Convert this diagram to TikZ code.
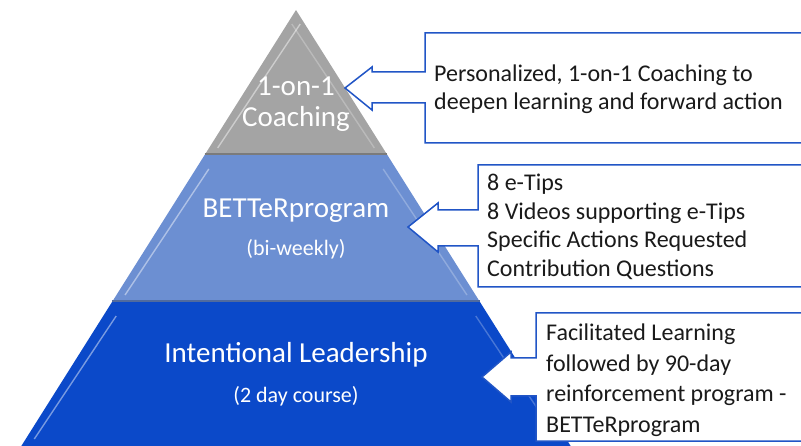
\documentclass[tikz,border=0pt]{standalone}
\usepackage{fontspec}
\setmainfont{Carlito}
\usepackage{tikz}
\definecolor{capagris}{HTML}{A4A4A4}
\definecolor{capaclara}{HTML}{6C8FD2}
\definecolor{capaoscura}{HTML}{0B49C9}
\definecolor{borde}{HTML}{2155C6}
\definecolor{tinta}{HTML}{1A1A1A}

\begin{document}
\begin{tikzpicture}[x=1pt,y=-1pt,
      tier/.style={font=\fontsize{29}{31}\selectfont,text=white,align=center},
      sub/.style={font=\fontsize{22}{25}\selectfont,text=white},
      note/.style={font=\fontsize{24}{28.5}\selectfont,text=tinta,align=left,anchor=west,inner sep=0pt},
      callout/.style={draw=borde,line width=1.5pt,fill=white,miter limit=4}]
    \useasboundingbox (0,0) rectangle (801,446);
    \clip (0,0) rectangle (801,446);
    % three tiers of the pyramid, apex at (296,10)
    \foreach \t/\b/\c in {10/155/capagris,155/302/capaclara,302/446/capaoscura}{
      \pgfmathsetmacro\wt{0.63*(\t-10)}
      \pgfmathsetmacro\wb{0.63*(\b-10)}
      \pgfmathsetmacro\wh{0.63*(\t+4)-13}
      \fill[\c] (296-\wt,\t) -- (296+\wt,\t) -- (296+\wb,\b) -- (296-\wb,\b) -- cycle;
      % bevel highlights
      \draw[white,opacity=0.45,line width=1.4pt]
        (296-\wb+13,\b-7) -- (296-\wh,\t+14);
      \draw[white,opacity=0.25,line width=1.4pt]
        (296+\wb-13,\b-7) -- (296+\wh,\t+14);
    }
    % base shadows of the two upper tiers
    \draw[capagris!75!black,line width=1.5pt] (204.65,154) -- (387.35,154);
    \draw[capaclara!75!black,line width=1.5pt] (112.04,301) -- (479.96,301);
    % callouts
    \draw[callout] (812,33) -- (425,33) -- (425,72) -- (372,72) -- (372,67) -- (345,88)
      -- (372,110) -- (372,103) -- (425,103) -- (425,143) -- (812,143);
    \draw[callout] (812,165) -- (478,165) -- (478,210) -- (438,210) -- (438,203) -- (408,227)
      -- (438,252) -- (438,246) -- (478,246) -- (478,287) -- (812,287);
    \draw[callout] (812,313) -- (536,313) -- (536,358) -- (511,358) -- (511,352) -- (482,377)
      -- (511,402) -- (511,396) -- (536,396) -- (536,441) -- (812,441);
    % tier labels
    \node[tier] (coach) at (296,104) {1-on-1\\Coaching};
    \node[tier] (better) at (296,211) {BETTeRprogram};
    \node[sub] (biweekly) at (296,249) {(bi-weekly)};
    \node[tier] (intent) at (296,355) {Intentional Leadership};
    \node[sub] (course) at (296,396) {(2 day course)};
    % callout texts
    \node[note] (coachnote) at (434,89) {Personalized, 1-on-1 Coaching to\\deepen learning and forward action};
    \node[note] (betternote) at (487,227) {8 e-Tips\\8 Videos supporting e-Tips\\Specific Actions Requested\\Contribution Questions};
    \node[note,font=\fontsize{24}{30.5}\selectfont] (intentnote) at (546,380) {Facilitated Learning\\followed by 90-day\\reinforcement program -\\BETTeRprogram};
  \end{tikzpicture}
\end{document}
